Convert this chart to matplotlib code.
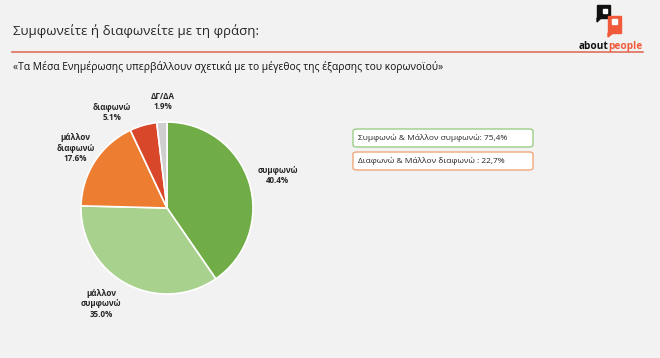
import numpy as np
import matplotlib.pyplot as plt
from matplotlib.patches import Rectangle, FancyBboxPatch, Polygon
from matplotlib.lines import Line2D

# данные
labels = ['συμφωνώ', 'μάλλον\nσυμφωνώ', 'μάλλον\nδιαφωνώ', 'διαφωνώ', 'ΔΓ/ΔΑ']
values = [40.4, 35.0, 17.6, 5.1, 1.9]
colors = ['#70ad47', '#a9d18e', '#ed7d31', '#d9472b', '#d0cece']
summary = ['Συμφωνώ & Μάλλον συμφωνώ: 75,4%', 'Διαφωνώ & Μάλλον διαφωνώ : 22,7%']
summary_edges = ['#9ccc85', '#f2a77a']

title = 'Συμφωνείτε ή διαφωνείτε με τη φράση:'
quote = '«Τα Μέσα Ενημέρωσης υπερβάλλουν σχετικά με το μέγεθος της έξαρσης του κορωνοϊού»'

W, H = 660, 358
bg = '#f2f2f2'
plt.rcParams['font.family'] = ['Open Sans', 'DejaVu Sans']

fig = plt.figure(figsize=(W / 100, H / 100), dpi=100, facecolor=bg)


def fx(px):
    return px / W


def fy(py):
    return 1 - py / H


# заголовок
fig.text(fx(13), fy(31), title, fontsize=9.5, color='#262626', va='center', ha='left')
fig.add_artist(Line2D([fx(12), fx(643)], [fy(52), fy(52)], color='#e0705a', lw=1.2))
fig.text(fx(13), fy(67), quote, fontsize=7.4, color='#111111', va='center', ha='left')

# логотип
fig.add_artist(Rectangle((fx(597), fy(18)), fx(13), 13 / H, color='#111111'))
fig.add_artist(Polygon([[fx(597), fy(18)], [fx(601), fy(18)], [fx(597), fy(22)]], color='#111111'))
fig.add_artist(Rectangle((fx(603), fy(13)), fx(4), 4 / H, color='white'))
fig.add_artist(Rectangle((fx(608), fy(33)), fx(13), 17 / H, color='#f05a3a'))
fig.add_artist(Polygon([[fx(608), fy(33)], [fx(613), fy(33)], [fx(608), fy(37)]], color='#f05a3a'))
fig.add_artist(Rectangle((fx(612), fy(24)), fx(5), 5 / H, color='white'))
t1 = fig.text(fx(579), fy(49), 'about', fontsize=7.3, fontweight='bold', color='#111111',
              va='baseline', ha='left')
fig.canvas.draw()
bb = t1.get_window_extent()
fig.text(bb.x1 / W - fx(1), fy(49), 'people', fontsize=7.3, fontweight='bold', color='#f05a3a',
         va='baseline', ha='left')

# пирог
R = 86
cx, cy = 167, 208
side = 3 * R
ax = fig.add_axes([fx(cx - side / 2), (H - cy - side / 2) / H, side / W, side / H])
ax.set_facecolor(bg)
wedges, texts = ax.pie(values, labels=[f'{l}\n{v:.1f}%' for l, v in zip(labels, values)],
                       colors=colors, startangle=90, counterclock=False,
                       wedgeprops=dict(edgecolor='white', linewidth=1.2),
                       textprops=dict(fontsize=5.8, fontweight='bold', color='#262626'))

# подписи: расстояние и сдвиг угла, чтобы не налезали
label_dist = [1.34, 1.35, 1.27, 1.28, 1.24]
label_shift = [-1, -6, 0, 14, -1]
for w, t, d, s in zip(wedges, texts, label_dist, label_shift):
    a = np.deg2rad((w.theta1 + w.theta2) / 2 + s)
    t.set_position((d * np.cos(a), d * np.sin(a)))
    t.set_ha('center')
    t.set_va('center')
    t.set_multialignment('center')
ax.set_xlim(-1.5, 1.5)
ax.set_ylim(-1.5, 1.5)
ax.set_aspect('equal')
ax.axis('off')

# рамки с итогами
boxes_top = [129, 152]
for txt, ec, top in zip(summary, summary_edges, boxes_top):
    fig.add_artist(FancyBboxPatch((fx(353), fy(top + 18)), fx(180), 18 / H,
                                  boxstyle='round,pad=0,rounding_size=0.006',
                                  facecolor='white', edgecolor=ec, lw=1.0))
    fig.text(fx(358), fy(top + 9), txt, fontsize=6.0, color='#262626', va='center', ha='left')

plt.savefig('out.png', dpi=100, facecolor=bg)
